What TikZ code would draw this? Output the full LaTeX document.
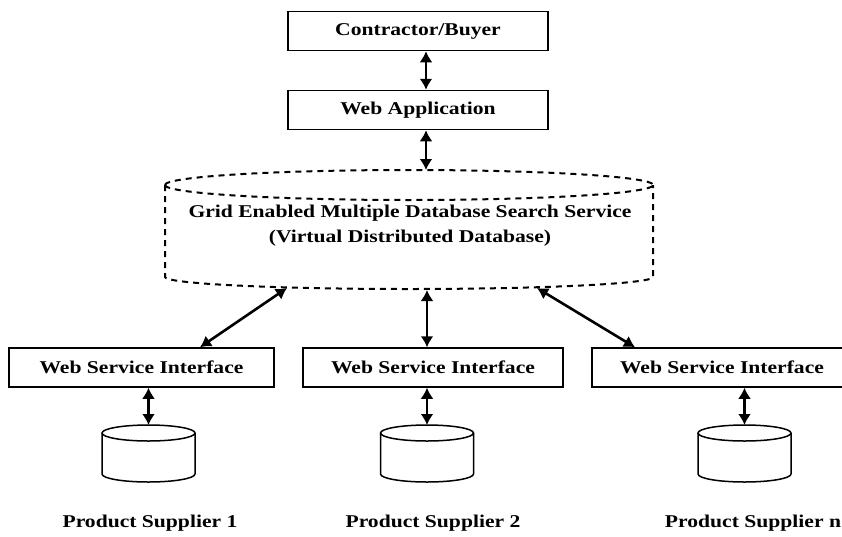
\documentclass[tikz,border=0pt]{standalone}
\usepackage{fontspec}
\usetikzlibrary{arrows.meta}
\newfontfamily\labelfont[FakeStretch=1.2]{Liberation Serif}

\tikzset{
  box/.style={draw, line width=1.5pt, inner sep=0pt, minimum height=39pt},
  lab/.style={font=\labelfont\fontsize{18}{25}\selectfont\bfseries},
  link/.style={line width=2.6pt, {Latex[length=11pt,width=13pt]}-{Latex[length=11pt,width=13pt]}},
  dbline/.style={line width=1.5pt},
  gridline/.style={line width=2pt, dash pattern=on 6pt off 5pt},
  pics/dbcyl/.style={code={
    \draw[dbline] (-46.5,0) -- (-46.5,41)
      arc[start angle=180, end angle=0, x radius=46.5, y radius=8] -- (46.5,0);
    \draw[dbline] (0,0) ellipse[x radius=46.5, y radius=8];
    \coordinate (-top) at (0,-8);
  }}
}

\begin{document}
\begin{tikzpicture}[x=1pt, y=-1pt]
  \useasboundingbox (0,0) rectangle (842,536);
  \fill[white] (0,0) rectangle (842,536);
  \clip (0,0) rectangle (842,536);

  % client side
  \node[box, lab, minimum width=260pt] (buyer) at (418,31) {Contractor/Buyer};
  \node[box, lab, minimum width=260pt] (webapp) at (418,110) {Web Application};

  % virtual distributed database (dashed cylinder)
  \draw[gridline] (165,185) arc[start angle=180, end angle=360, x radius=244, y radius=15];
  \draw[gridline] (165,185) arc[start angle=180, end angle=0, x radius=244, y radius=15];
  \draw[gridline] (165,185) -- (165,277)
    arc[start angle=180, end angle=0, x radius=244, y radius=12] -- (653,185);
  \node[lab, align=center] (grid) at (410,226)
    {Grid Enabled Multiple Database Search Service\\(Virtual Distributed Database)};
  \coordinate (gT) at (426,170);
  \coordinate (gL) at (287,288);
  \coordinate (gM) at (427,290);
  \coordinate (gR) at (537,288);

  % web service interfaces
  \node[box, lab, minimum width=265pt] (wsi1) at (141.5,367.5) {Web Service Interface};
  \node[box, lab, minimum width=260pt] (wsi2) at (433,367.5) {Web Service Interface};
  \node[box, lab, minimum width=260pt] (wsi3) at (722,367.5) {Web Service Interface};

  % supplier databases
  \pic (db1) at (148.5,433) {dbcyl};
  \pic (db2) at (427,433) {dbcyl};
  \pic (db3) at (744.5,433) {dbcyl};

  \node[lab] (ps1) at (150,523) {Product Supplier 1};
  \node[lab] (ps2) at (433,523) {Product Supplier 2};
  \node[lab] (ps3) at (753,523) {Product Supplier n};

  % connectors
  \draw[link] ([xshift=8pt]buyer.south) -- ([xshift=8pt]webapp.north);
  \draw[link] ([xshift=8pt]webapp.south) -- (gT);
  \draw[link] (gL) -- ([xshift=58.5pt]wsi1.north);
  \draw[link] (gM) -- (wsi2.north -| gM);
  \draw[link] (gR) -- ([xshift=-87pt]wsi3.north);
  \draw[link] (wsi1.south -| db1-top) -- (db1-top);
  \draw[link] (wsi2.south -| db2-top) -- (db2-top);
  \draw[link] (wsi3.south -| db3-top) -- (db3-top);
\end{tikzpicture}
\end{document}
